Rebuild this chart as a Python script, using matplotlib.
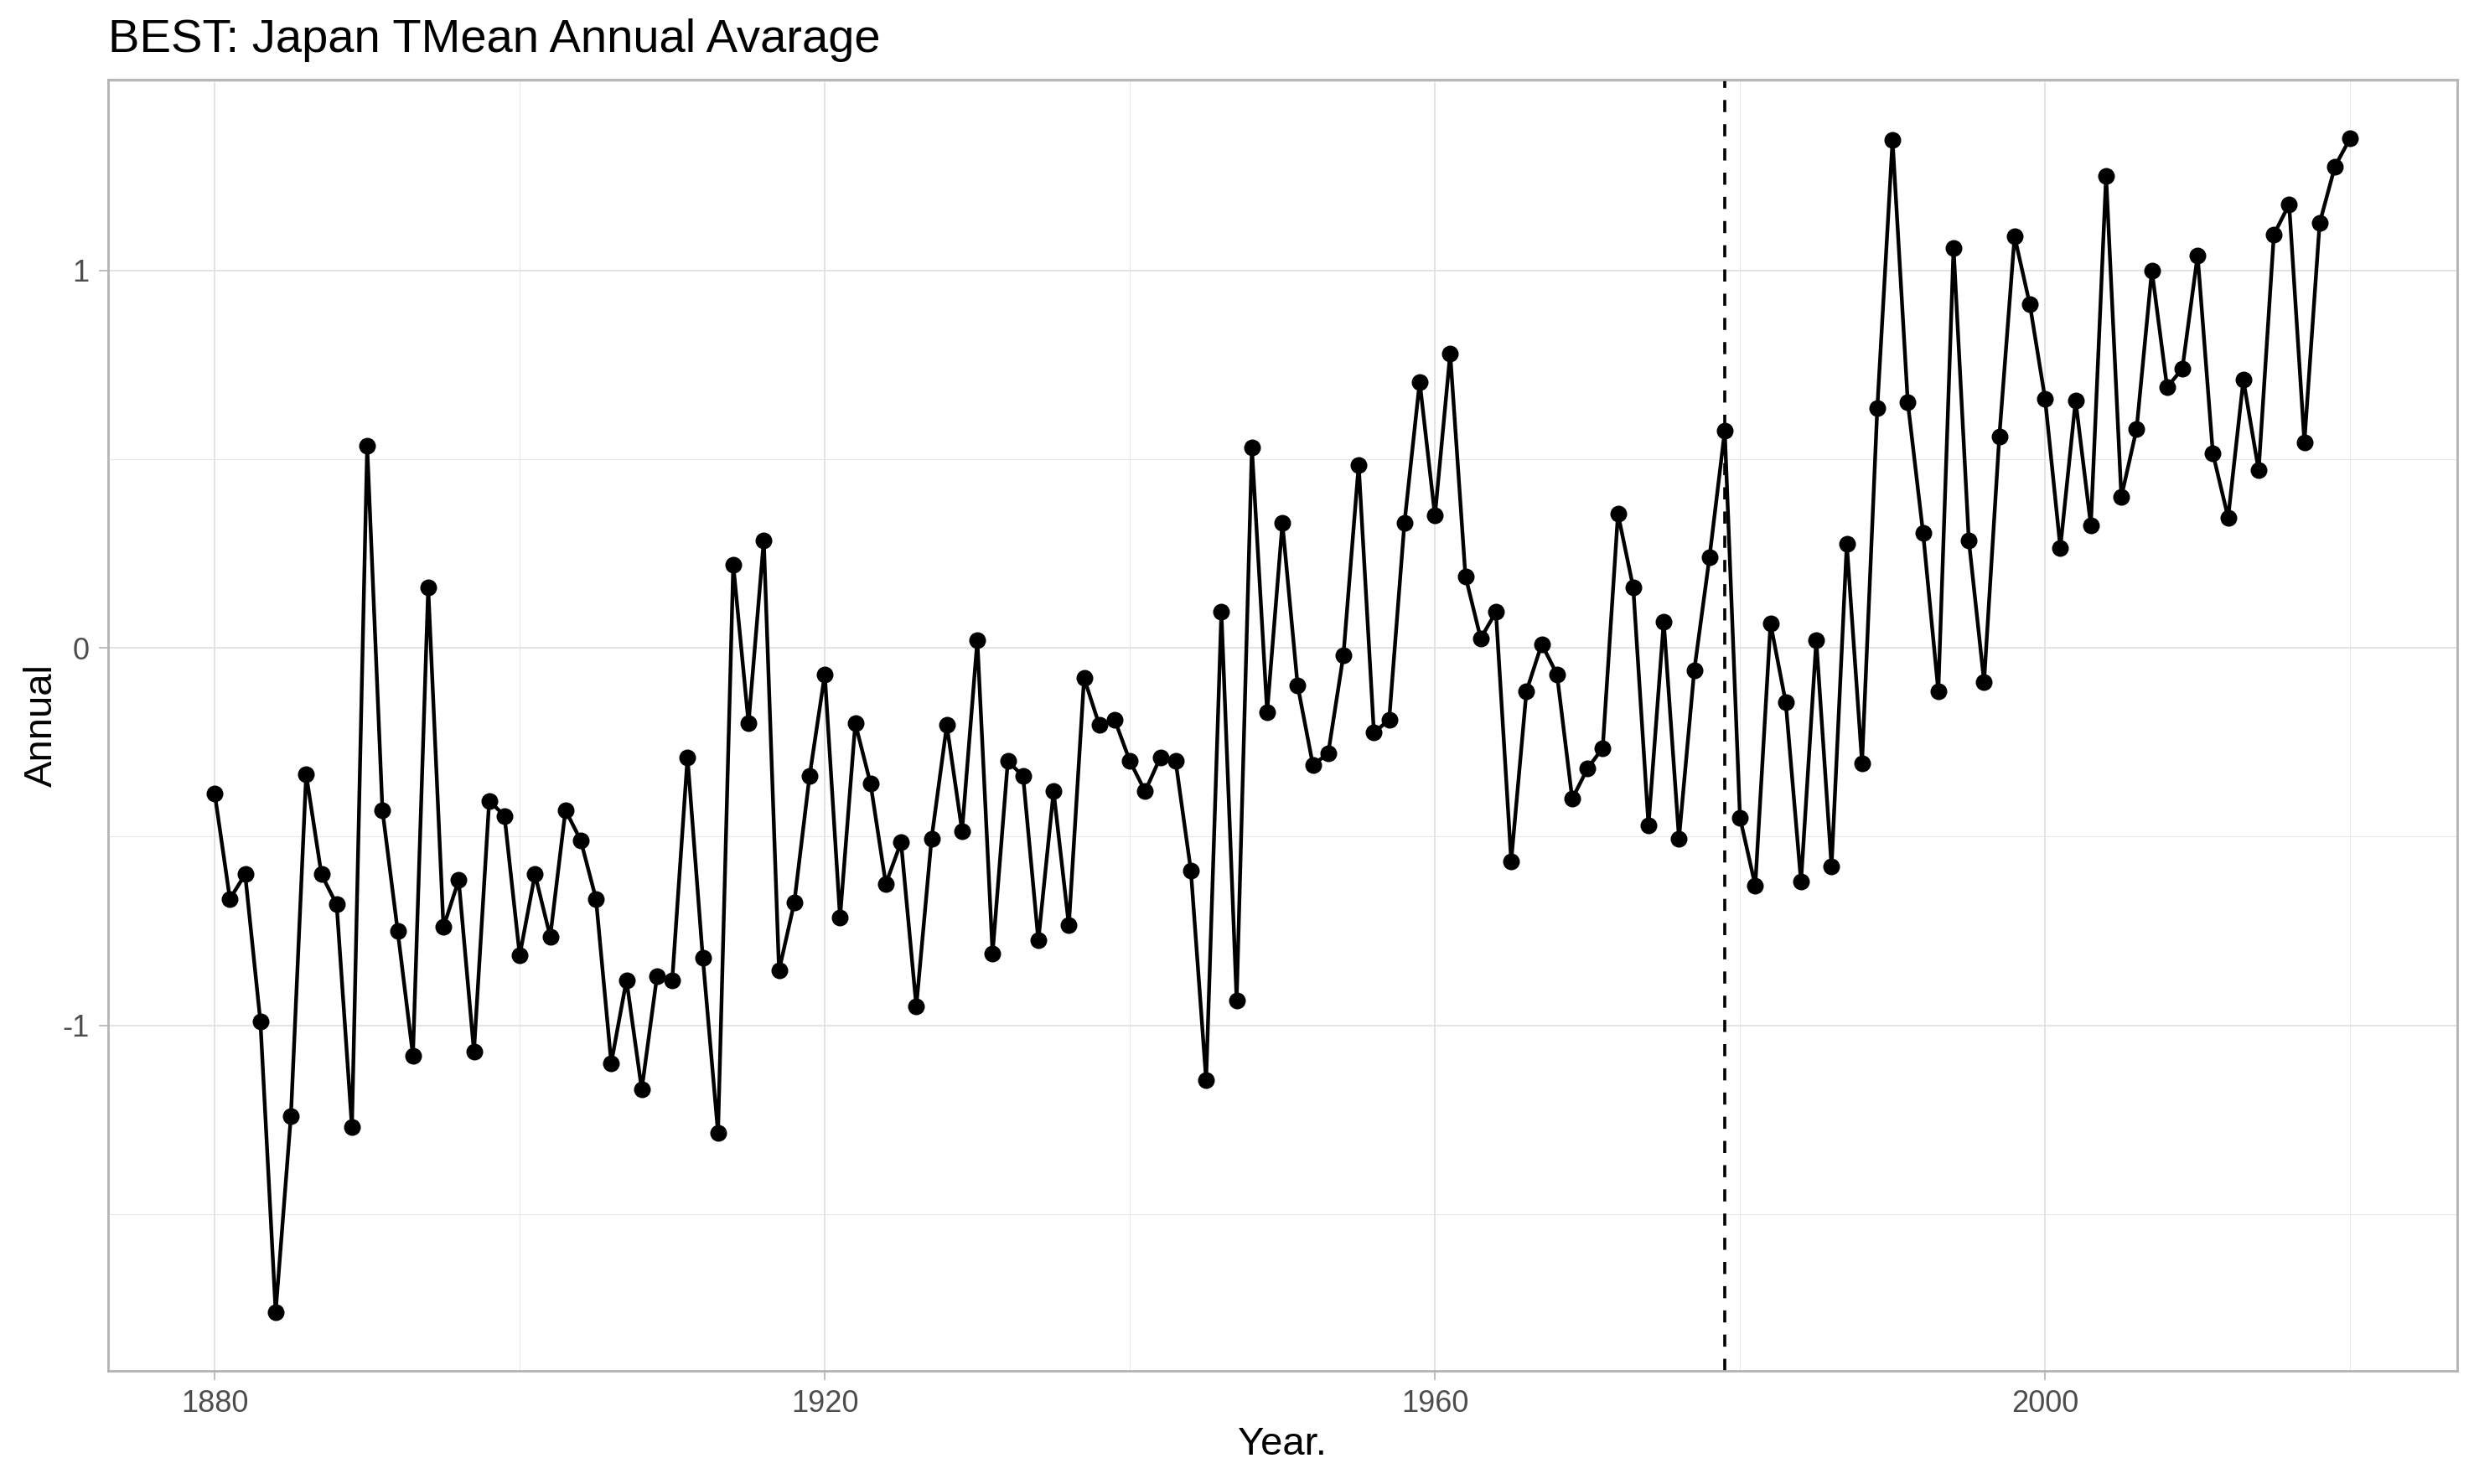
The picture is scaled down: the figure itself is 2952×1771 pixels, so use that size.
import numpy as np
import matplotlib
matplotlib.use("Agg")
import matplotlib.pyplot as plt
from matplotlib.ticker import MultipleLocator

plt.rcParams['font.family'] = ['Liberation Sans', 'DejaVu Sans']

# annual mean temperature anomaly
years = list(range(1880, 2021))
annual = [
    -0.385, -0.665, -0.60, -0.99, -1.76, -1.24, -0.335, -0.60, -0.68, -1.27,   # 1880s
    0.535, -0.43, -0.75, -1.08, 0.16, -0.74, -0.615, -1.07, -0.405, -0.445,    # 1890s
    -0.815, -0.60, -0.765, -0.43, -0.51, -0.665, -1.10, -0.88, -1.17, -0.87,   # 1900s
    -0.88, -0.29, -0.82, -1.285, 0.22, -0.20, 0.285, -0.855, -0.675, -0.34,    # 1910s
    -0.07, -0.715, -0.20, -0.36, -0.625, -0.515, -0.95, -0.505, -0.205, -0.485,  # 1920s
    0.02, -0.81, -0.30, -0.34, -0.775, -0.38, -0.735, -0.08, -0.205, -0.19,    # 1930s
    -0.30, -0.38, -0.29, -0.30, -0.59, -1.145, 0.095, -0.935, 0.53, -0.17,     # 1940s
    0.33, -0.10, -0.31, -0.28, -0.02, 0.485, -0.225, -0.19, 0.33, 0.705,       # 1950s
    0.35, 0.78, 0.19, 0.025, 0.095, -0.565, -0.115, 0.01, -0.07, -0.40,        # 1960s
    -0.32, -0.265, 0.355, 0.16, -0.47, 0.07, -0.505, -0.06, 0.24, 0.575,       # 1970s
    -0.45, -0.63, 0.065, -0.145, -0.62, 0.02, -0.58, 0.275, -0.305, 0.635,     # 1980s
    1.345, 0.65, 0.305, -0.115, 1.06, 0.285, -0.09, 0.56, 1.09, 0.91,          # 1990s
    0.66, 0.265, 0.655, 0.325, 1.25, 0.40, 0.58, 1.00, 0.69, 0.74,             # 2000s
    1.04, 0.515, 0.345, 0.71, 0.47, 1.095, 1.175, 0.545, 1.125, 1.275,         # 2010s
    1.35,                                                                      # 2020
]
break_year = 1979

x_ticks = [1880, 1920, 1960, 2000]
y_ticks = [-1, 0, 1]

fig = plt.figure(figsize=(14.76, 8.855), dpi=200)
ax = fig.add_axes([0.0436, 0.0762, 0.9495, 0.8702])

# ggplot-style default expansion (5% each side)
xr = max(years) - min(years)
yr = max(annual) - min(annual)
ax.set_xlim(min(years) - 0.05 * xr, max(years) + 0.05 * xr)
ax.set_ylim(min(annual) - 0.05 * yr, max(annual) + 0.05 * yr)

ax.set_xticks(x_ticks)
ax.set_yticks(y_ticks)
ax.set_yticklabels([str(v) for v in y_ticks])
ax.xaxis.set_minor_locator(MultipleLocator(20))
ax.yaxis.set_minor_locator(MultipleLocator(0.5))

ax.grid(True, which='major', color='#DEDEDE', linewidth=0.6)
ax.grid(True, which='minor', color='#E6E6E6', linewidth=0.35)
ax.set_axisbelow(True)

for sp in ax.spines.values():
    sp.set_color('#B3B3B3')
    sp.set_linewidth(1.0)

ax.tick_params(axis='both', which='major', length=4, width=0.6, color='#B3B3B3',
               labelsize=13, labelcolor='#4D4D4D', pad=4)
ax.tick_params(axis='both', which='minor', length=0)

ax.plot(years, annual, color='black', linewidth=1.6, zorder=3)
ax.plot(years, annual, 'o', color='black', markersize=6.2, zorder=4)
ax.axvline(break_year, color='black', linewidth=1.3, linestyle=(0, (4, 4)), zorder=2)

ax.set_xlabel('Year.', fontsize=17, labelpad=3)
ax.set_ylabel('Annual', fontsize=17, labelpad=1)
ax.set_title('BEST: Japan TMean Annual Avarage', loc='left', fontsize=20.2, pad=12)

fig.savefig('out.png', dpi=200, facecolor='white')
